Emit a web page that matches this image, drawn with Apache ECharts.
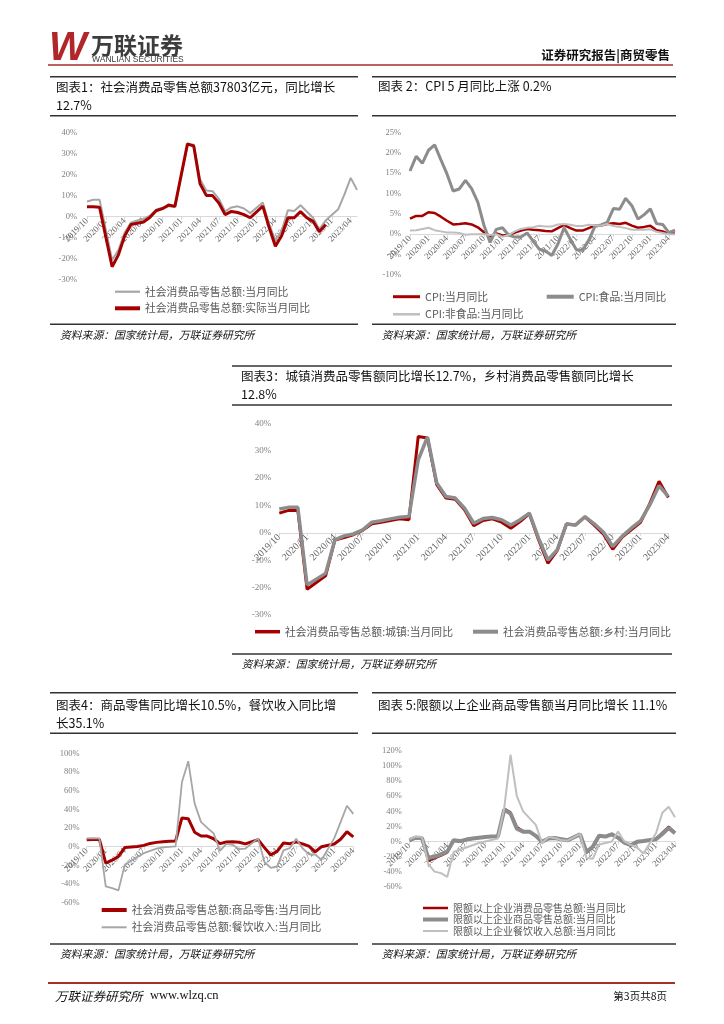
<!DOCTYPE html>
<html>
<head>
<meta charset="utf-8">
<script src="https://cdn.jsdelivr.net/npm/echarts@6/dist/echarts.min.js"></script>
<style>
html,body{margin:0;padding:0;background:#fff;}
#main{width:724px;height:1024px;}
</style>
</head>
<body>
<div id="main"></div>
<script>
// ---------- categories ----------
const months44 = ['2019/10','2019/11','2019/12',
 '2020/01','2020/02','2020/03','2020/04','2020/05','2020/06','2020/07','2020/08','2020/09','2020/10','2020/11','2020/12',
 '2021/01','2021/02','2021/03','2021/04','2021/05','2021/06','2021/07','2021/08','2021/09','2021/10','2021/11','2021/12',
 '2022/01','2022/02','2022/03','2022/04','2022/05','2022/06','2022/07','2022/08','2022/09','2022/10','2022/11','2022/12',
 '2023/01','2023/02','2023/03','2023/04','2023/05'];
const months43 = ['2019/10','2019/11','2019/12',
 '2020/01','2020/02','2020/03','2020/04','2020/05','2020/06','2020/07','2020/08','2020/09','2020/10','2020/11','2020/12',
 '2021/01','2021/02','2021/03','2021/04','2021/05','2021/06','2021/07','2021/08','2021/09','2021/10','2021/11','2021/12',
 '2022/01','2022/02','2022/03','2022/04','2022/05','2022/06','2022/07','2022/08','2022/09','2022/10','2022/11','2022/12',
 '2023/01','2023/02','2023/03','2023/04'];

// ---------- chart 1 ----------
const retailYoY = [7.2, 8.0, 8.0, null, -20.5, -15.8, -7.5, -2.8, -1.8, -1.1, 0.5, 3.3, 4.3, 5.0, 4.6, null, 33.8, 34.2, 17.7, 12.4, 12.1, 8.5, 2.5, 4.4, 4.9, 3.9, 1.7, null, 6.7, -3.5, -11.1, -6.7, 3.1, 2.7, 5.4, 2.5, -0.5, -5.9, -1.8, null, 3.5, 10.6, 18.4, 12.7];
const retailRealYoY = [4.7, 4.7, 4.5, null, -23.7, -18.1, -9.1, -3.7, -3.1, -2.5, -0.4, 2.8, 3.8, 5.5, 4.9, null, 34.5, 33.5, 15.6, 10.1, 10.0, 6.5, 1.0, 2.5, 2.0, 1.0, -0.5, null, 5.0, -5.0, -14.0, -9.0, -0.5, -0.5, 2.4, -0.5, -2.2, -7.1, -3.8];

// ---------- chart 2 ----------
const cpiYoY = [3.8, 4.5, 4.5, 5.4, 5.2, 4.3, 3.3, 2.4, 2.5, 2.7, 2.4, 1.7, 0.5, -0.5, 0.2, -0.3, -0.2, 0.4, 0.9, 1.3, 1.1, 1.0, 0.8, 0.7, 1.5, 2.3, 1.5, 0.9, 0.9, 1.5, 2.1, 2.1, 2.5, 2.7, 2.5, 2.8, 2.1, 1.6, 1.8, 2.1, 1.0, 0.7, 0.1, 0.2];
const cpiFoodYoY = [15.5, 19.1, 17.4, 20.6, 21.9, 18.3, 14.8, 10.6, 11.1, 13.2, 11.2, 7.9, 2.2, -2.0, 1.2, 1.6, -0.2, -0.7, -0.7, 0.3, -1.7, -3.7, -4.1, -5.2, -2.4, 1.6, -1.2, -3.8, -3.9, -1.5, 1.9, 2.3, 2.9, 6.3, 6.1, 8.8, 7.0, 3.7, 4.8, 6.2, 2.6, 2.4, 0.4, 1.0];
const cpiNonFoodYoY = [0.9, 1.0, 1.3, 1.6, 1.0, 0.7, 0.4, 0.4, 0.3, -0.1, 0.0, 0.0, 0.0, -0.2, 0.0, -0.6, -0.2, 0.7, 1.3, 1.6, 1.7, 2.1, 1.9, 1.9, 2.4, 2.5, 2.3, 2.0, 2.0, 2.3, 2.2, 2.1, 2.5, 2.0, 1.8, 1.5, 1.1, 1.1, 1.1, 1.2, 0.6, 0.3, 0.0, 0.0];

// ---------- chart 3 ----------
const urbanYoY = [7.2, 8.2, 8.2, -20.6, null, -15.7, -2.6, -1.7, -0.7, 0.9, 3.3, 3.9, 4.5, 5.1, 4.8, 35.2, 34.6, 17.6, 12.7, 12.3, 8.4, 2.6, 4.5, 5.1, 3.9, 1.7, 4.1, 7.0, -2.6, -11.1, -6.5, 3.2, 2.9, 5.8, 2.8, -0.5, -6.0, -1.6, 1.1, 3.8, 10.7, 18.8, 12.9];
const ruralYoY = [8.7, 9.3, 9.3, -19.0, null, -14.8, -2.6, -1.1, -0.4, 1.1, 3.9, 4.4, 5.1, 5.7, 6.0, 26.7, 35.0, 18.2, 13.3, 12.7, 9.0, 3.5, 5.2, 5.6, 4.8, 2.9, 4.8, 7.2, -2.0, -9.9, -6.2, 3.2, 2.9, 5.9, 3.3, 0.2, -5.0, -1.3, 1.7, 4.4, 10.2, 17.2, 13.3];

// ---------- chart 4 ----------
const goodsYoY = [7.5, 7.8, 7.8, -17.6, -14.5, -10.5, -1.0, -0.3, 0.3, 1.4, 3.5, 4.6, 5.2, 5.8, 6.0, 30.8, 30.0, 15.5, 11.5, 11.3, 8.5, 3.3, 5.0, 5.3, 4.8, 3.0, null, 7.5, -1.0, -9.0, -5.0, 3.9, 3.2, 5.1, 3.0, 0.5, -5.6, 0.0, null, 2.9, 8.0, 16.0, 10.5];
const cateringYoY = [8.9, 9.2, 8.9, -42.5, -44.5, -46.8, -19.5, -15.0, -11.0, -7.0, -4.5, -2.0, -0.7, -0.2, 0.3, 68.9, 91.6, 46.4, 26.6, 20.2, 14.3, -4.5, 3.1, 2.0, -2.7, -2.0, null, 8.9, -16.4, -22.7, -21.1, -4.0, -1.5, 8.4, -1.7, -8.1, -8.4, -14.1, null, 9.2, 26.3, 43.8, 35.1];

// ---------- chart 5 ----------
const aboveTotalYoY = [3.0, 5.5, 5.0, -26.0, -22.5, -19.0, -15.0, 0.5, -0.5, 1.5, 3.5, 5.0, 6.0, 7.0, 7.0, 44.0, 39.0, 19.5, 14.0, 13.5, 7.0, -1.0, 3.5, 5.0, 3.5, 1.5, null, 10.0, -15.5, -7.0, 8.0, 7.0, 10.5, 4.5, -2.0, -5.5, -1.0, 0.0, null, 4.0, 12.0, 20.0, 12.0];
const aboveGoodsYoY = [1.5, 5.0, 4.5, -22.0, -20.0, -17.0, -13.5, 1.5, 0.5, 2.5, 4.0, 5.0, 6.0, 6.5, 6.5, 42.0, 37.0, 17.0, 13.0, 13.0, 7.5, -0.5, 4.0, 4.5, 3.0, 1.5, null, 9.5, -14.0, -7.0, 7.5, 6.5, 9.5, 5.0, -1.5, -5.0, -0.5, 0.5, null, 3.0, 10.0, 18.0, 11.0];
const aboveCateringYoY = [3.0, 6.5, 6.0, -30.0, -40.0, -42.0, -47.0, -14.0, -11.0, -8.0, -5.0, -2.0, 0.0, 2.0, 4.0, 44.0, 115.0, 60.0, 40.0, 31.0, 22.0, -2.0, 6.0, 4.5, 2.0, 1.0, null, 10.0, -22.0, -23.0, -4.0, -2.0, 0.0, 13.0, 0.0, -4.5, -8.0, -16.0, null, 11.0, 38.0, 46.0, 32.0];

// ---------- styling ----------
const CJK = '"Noto Sans CJK SC", "Noto Sans", sans-serif';
const NUM = '"Liberation Serif", "DejaVu Serif", serif';
const RED = '#a50000';
const GRAY = '#8c8c8c';
const LGRAY = '#bfbfbf';

const chart = echarts.init(document.getElementById('main'));

// grid geometry (plot areas) and value ranges
const G = [
  {left: 87,    width: 270,   top: 132.3, height: 147.7, min: -30, max: 40,  step: 10},
  {left: 410,   width: 265,   top: 132.3, height: 142.7, min: -10, max: 25,  step: 5},
  {left: 279.3, width: 389,   top: 423.3, height: 191.7, min: -30, max: 40,  step: 10},
  {left: 86.7,  width: 266.6, top: 753.3, height: 149.4, min: -60, max: 100, step: 20},
  {left: 409.3, width: 265.7, top: 751,   height: 135.7, min: -60, max: 120, step: 20}
];
function zeroOffset(g) { // distance from bottom of the plot to the zero line (negative = upward)
  return -g.height * (0 - g.min) / (g.max - g.min);
}

function xAx(gi, data, fs) {
  return {
    type: 'category', gridIndex: gi, data: data, boundaryGap: false,
    position: 'bottom', offset: zeroOffset(G[gi]),
    axisLine: {onZero: false, lineStyle: {color: '#d9d9d9', width: 1}},
    axisTick: {show: true, interval: 2, length: 3, lineStyle: {color: '#d9d9d9'}},
    axisLabel: {interval: 2, rotate: 45, margin: 3, fontSize: fs, color: '#666', fontFamily: NUM, hideOverlap: false},
    splitLine: {show: false}
  };
}
function yAx(gi, fs, margin) {
  const g = G[gi];
  return {
    type: 'value', gridIndex: gi, min: g.min, max: g.max, interval: g.step,
    axisLine: {show: false}, axisTick: {show: false}, splitLine: {show: false},
    axisLabel: {formatter: '{value}%', fontSize: fs, color: '#808080', fontFamily: NUM, margin: margin}
  };
}
function ln(name, gi, data, color, width) {
  return {
    type: 'line', name: name, xAxisIndex: gi, yAxisIndex: gi, data: data,
    symbol: 'none', showSymbol: false, connectNulls: true,
    lineStyle: {color: color, width: width}, itemStyle: {color: color},
    animation: false
  };
}
function lg(name, left, cy, h, w, fs) {
  const f = fs || 10.8;
  return {
    data: [{name: name, icon: 'rect'}], left: left, top: cy - f * 0.65, orient: 'horizontal',
    itemWidth: w || 25, itemHeight: h, itemGap: 0, padding: 0, selectedMode: false,
    textStyle: {fontSize: f, lineHeight: f * 1.3, color: '#595959', fontFamily: CJK, padding: [0, 0, 0, 0]}
  };
}
function txt(t, x, y, size, opts) {
  opts = opts || {};
  const font = (opts.italic ? 'italic ' : '') + (opts.bold ? 'bold ' : '') + size + 'px ' + (opts.family || CJK);
  return {
    type: 'text', x: x, y: y, silent: true,
    style: {text: t, font: font, fill: opts.color || '#111',
      align: opts.align || 'left', verticalAlign: 'middle',
      textAlign: opts.align || 'left', textVerticalAlign: 'middle'}
  };
}
function hl(x1, x2, y, color, w) {
  return {type: 'line', silent: true, shape: {x1: x1, y1: y, x2: x2, y2: y}, style: {stroke: color || '#333', lineWidth: w || 1.5}};
}

const names = {
  c1a: '社会消费品零售总额:当月同比',
  c1b: '社会消费品零售总额:实际当月同比',
  c2a: 'CPI:当月同比',
  c2b: 'CPI:食品:当月同比',
  c2c: 'CPI:非食品:当月同比',
  c3a: '社会消费品零售总额:城镇:当月同比',
  c3b: '社会消费品零售总额:乡村:当月同比',
  c4a: '社会消费品零售总额:商品零售:当月同比',
  c4b: '社会消费品零售总额:餐饮收入:当月同比',
  c5a: '限额以上企业消费品零售总额:当月同比',
  c5b: '限额以上企业商品零售总额:当月同比',
  c5c: '限额以上企业餐饮收入总额:当月同比'
};

const option = {
  backgroundColor: '#fff',
  animation: false,
  grid: G.map(g => ({left: g.left, width: g.width, top: g.top, height: g.height, containLabel: false})),
  xAxis: [
    xAx(0, months44, 9),
    xAx(1, months44, 9),
    xAx(2, months43, 10),
    xAx(3, months43, 9),
    xAx(4, months43, 9)
  ],
  yAxis: [
    yAx(0, 8.5, 10),
    yAx(1, 8.5, 9),
    yAx(2, 9, 8),
    yAx(3, 8.5, 7),
    yAx(4, 8.5, 7.5)
  ],
  legend: [
    lg(names.c1a, 115, 291.7, 2.2),
    lg(names.c1b, 115, 308.3, 4),
    lg(names.c2a, 393, 296.7, 3, 27),
    lg(names.c2b, 546.7, 296.7, 4, 27),
    lg(names.c2c, 393, 314.3, 2.5, 27),
    lg(names.c3a, 255, 631.7, 3.5),
    lg(names.c3b, 473, 631.7, 4),
    lg(names.c4a, 101.7, 910, 4),
    lg(names.c4b, 101.7, 927.3, 2),
    lg(names.c5a, 423, 908, 2.5, 25, 10),
    lg(names.c5b, 423, 919.5, 4, 25, 10),
    lg(names.c5c, 423, 931, 2, 25, 10)
  ],
  series: [
    ln(names.c1a, 0, retailYoY, '#a6a6a6', 2),
    ln(names.c1b, 0, retailRealYoY, RED, 3),
    ln(names.c2a, 1, cpiYoY, RED, 2.5),
    ln(names.c2b, 1, cpiFoodYoY, GRAY, 3),
    ln(names.c2c, 1, cpiNonFoodYoY, LGRAY, 2),
    ln(names.c3a, 2, urbanYoY, RED, 3),
    ln(names.c3b, 2, ruralYoY, GRAY, 3.5),
    ln(names.c4a, 3, goodsYoY, RED, 3),
    ln(names.c4b, 3, cateringYoY, '#a6a6a6', 1.8),
    ln(names.c5a, 4, aboveTotalYoY, RED, 2),
    ln(names.c5b, 4, aboveGoodsYoY, GRAY, 4),
    ln(names.c5c, 4, aboveCateringYoY, LGRAY, 2)
  ],
  graphic: [
    // header
    txt('W', 49, 49, 40, {family: '"Liberation Sans", sans-serif', bold: true, italic: true, color: '#b0262b'}),
    txt('万联证券', 91, 45, 23, {bold: true, color: '#3d3d3d'}),
    txt('WANLIAN SECURITIES', 92, 60, 8.5, {family: '"Liberation Sans", sans-serif', color: '#3d3d3d'}),
    txt('证券研究报告|商贸零售', 670, 55, 12.5, {bold: true, align: 'right', color: '#111'}),
    hl(48, 673, 65, '#a3302c', 1.5),

    // chart 1 box
    hl(50, 358, 76.7),
    txt('图表1：社会消费品零售总额37803亿元，同比增长', 56, 87.7, 12.5),
    txt('12.7%', 56, 105.7, 12.5),
    hl(50, 358, 115.7),
    hl(50, 358, 324.3),
    txt('资料来源：国家统计局，万联证券研究所', 60, 334.5, 10.8, {italic: true}),

    // chart 2 box
    hl(372, 676, 76.7),
    txt('图表 2：CPI 5 月同比上涨 0.2%', 378, 86.7, 12.5),
    hl(372, 676, 115.7),
    hl(372, 676, 324.3),
    txt('资料来源：国家统计局，万联证券研究所', 381.7, 334.5, 10.8, {italic: true}),

    // chart 3 box
    hl(232, 672, 366),
    txt('图表3：城镇消费品零售额同比增长12.7%，乡村消费品零售额同比增长', 241, 376, 12.5),
    txt('12.8%', 241, 394.3, 12.5),
    hl(232, 672, 405),
    hl(232, 672, 654),
    txt('资料来源：国家统计局，万联证券研究所', 241.7, 664, 10.8, {italic: true}),

    // chart 4 box
    hl(50, 358, 692.7),
    txt('图表4：商品零售同比增长10.5%，餐饮收入同比增', 56, 705, 12.5),
    txt('长35.1%', 56, 723.3, 12.5),
    hl(50, 358, 733.3),
    hl(50, 358, 944),
    txt('资料来源：国家统计局，万联证券研究所', 60, 953.5, 10.8, {italic: true}),

    // chart 5 box
    hl(372, 676, 692.7),
    txt('图表 5:限额以上企业商品零售额当月同比增长 11.1%', 378, 705, 12.5),
    hl(372, 676, 733.3),
    hl(372, 676, 944),
    txt('资料来源：国家统计局，万联证券研究所', 381.7, 954, 10.8, {italic: true}),

    // footer
    hl(48, 675, 983, '#a3302c', 2),
    txt('万联证券研究所', 55, 996, 12.5, {italic: true}),
    txt('www.wlzq.cn', 150, 996, 12.5, {family: NUM}),
    txt('第3页共8页', 667, 996, 10.5, {align: 'right'})
  ]
};
chart.setOption(option);
</script>
</body>
</html>
